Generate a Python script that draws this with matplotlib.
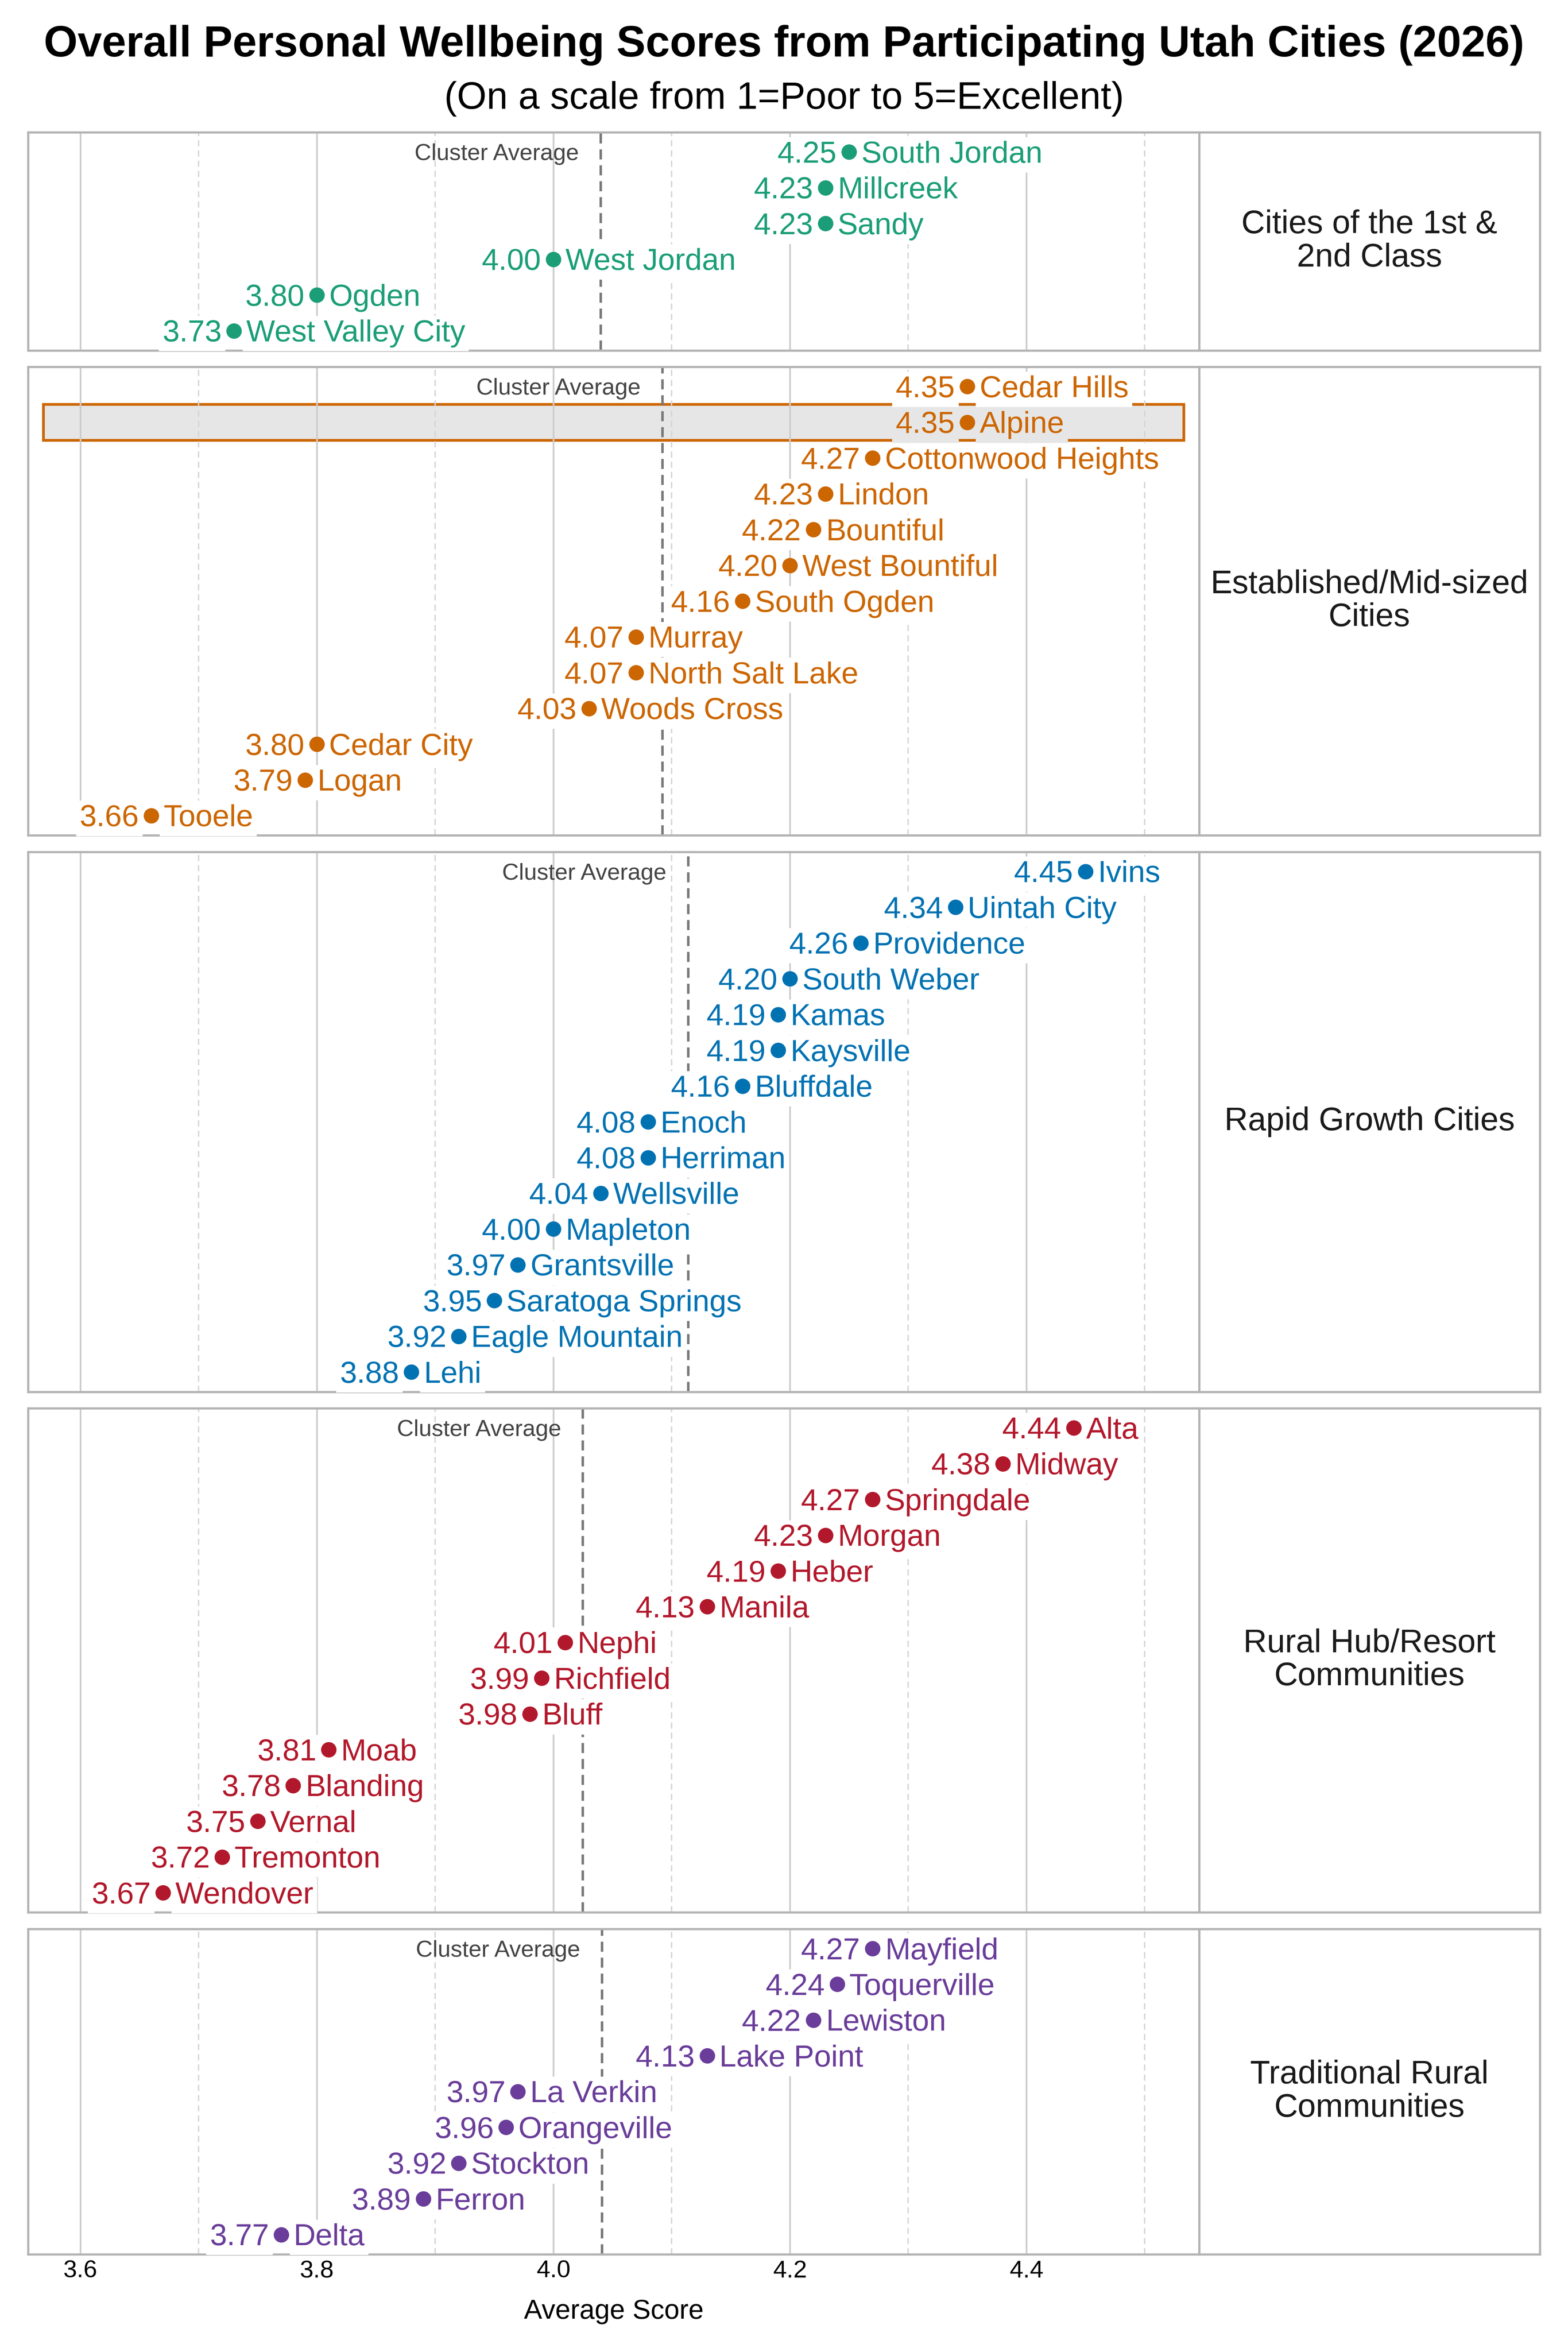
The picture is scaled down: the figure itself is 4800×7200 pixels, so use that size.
import textwrap
import numpy as np
import matplotlib
matplotlib.use("Agg")
import matplotlib.pyplot as plt
from matplotlib.patches import Rectangle

plt.rcParams["font.family"] = ["Liberation Sans", "DejaVu Sans"]

# ---------- data ----------
groups = [
    "Cities of the 1st & 2nd Class",
    "Established/Mid-sized Cities",
    "Rapid Growth Cities",
    "Rural Hub/Resort Communities",
    "Traditional Rural Communities",
]
group_colors = ["#1b9e77", "#cc6600", "#0072b2", "#b2182b", "#6a3d9a"]

cities_1st = ["South Jordan", "Millcreek", "Sandy", "West Jordan", "Ogden", "West Valley City"]
scores_1st = [4.25, 4.23, 4.23, 4.00, 3.80, 3.73]

cities_mid = ["Cedar Hills", "Alpine", "Cottonwood Heights", "Lindon", "Bountiful",
              "West Bountiful", "South Ogden", "Murray", "North Salt Lake", "Woods Cross",
              "Cedar City", "Logan", "Tooele"]
scores_mid = [4.35, 4.35, 4.27, 4.23, 4.22, 4.20, 4.16, 4.07, 4.07, 4.03, 3.80, 3.79, 3.66]

cities_growth = ["Ivins", "Uintah City", "Providence", "South Weber", "Kamas", "Kaysville",
                 "Bluffdale", "Enoch", "Herriman", "Wellsville", "Mapleton", "Grantsville",
                 "Saratoga Springs", "Eagle Mountain", "Lehi"]
scores_growth = [4.45, 4.34, 4.26, 4.20, 4.19, 4.19, 4.16, 4.08, 4.08, 4.04, 4.00, 3.97,
                 3.95, 3.92, 3.88]

cities_hub = ["Alta", "Midway", "Springdale", "Morgan", "Heber", "Manila", "Nephi",
              "Richfield", "Bluff", "Moab", "Blanding", "Vernal", "Tremonton", "Wendover"]
scores_hub = [4.44, 4.38, 4.27, 4.23, 4.19, 4.13, 4.01, 3.99, 3.98, 3.81, 3.78, 3.75,
              3.72, 3.67]

cities_rural = ["Mayfield", "Toquerville", "Lewiston", "Lake Point", "La Verkin",
                "Orangeville", "Stockton", "Ferron", "Delta"]
scores_rural = [4.27, 4.24, 4.22, 4.13, 3.97, 3.96, 3.92, 3.89, 3.77]

highlight_city = "Alpine"

all_cities = [cities_1st, cities_mid, cities_growth, cities_hub, cities_rural]
all_scores = [scores_1st, scores_mid, scores_growth, scores_hub, scores_rural]

major_ticks = [3.6, 3.8, 4.0, 4.2, 4.4]
minor_ticks = [3.7, 3.9, 4.1, 4.3, 4.5]

# ---------- figure ----------
fig = plt.figure(figsize=(8, 12), dpi=600)
counts = [len(c) for c in all_cities]
gs = fig.add_gridspec(
    len(groups), 2,
    height_ratios=[n + 0.1 for n in counts],
    width_ratios=[3.437, 1],
    left=0.018, right=0.982, top=1 - 405 / 7200, bottom=1 - 6901 / 7200,
    hspace=0.04, wspace=0,
)

spine_col = "#b3b3b3"
xmin, xmax = 3.556, 4.546

for i, (grp, cities, scores, col) in enumerate(zip(groups, all_cities, all_scores, group_colors)):
    ax = fig.add_subplot(gs[i, 0])
    lab = fig.add_subplot(gs[i, 1])
    n = len(cities)
    y = np.arange(n)

    ax.set_xlim(xmin, xmax)
    ax.set_ylim(n - 1 + 0.55, -0.55)
    ax.set_xticks(major_ticks)
    ax.set_xticks(minor_ticks, minor=True)
    ax.set_yticks([])
    ax.set_axisbelow(True)
    ax.grid(which="major", axis="x", color="#cccccc", lw=0.6)
    ax.grid(which="minor", axis="x", color="#d5d5d5", lw=0.5, ls=(0, (4.5, 3)))
    ax.tick_params(axis="x", which="both", length=0, labelsize=9, pad=2)
    if i < len(groups) - 1:
        ax.tick_params(axis="x", labelbottom=False)
    for sp in ax.spines.values():
        sp.set_color(spine_col)
        sp.set_linewidth(0.8)

    # dashed line at the group mean
    avg = np.mean(scores)
    ax.axvline(avg, color="#777777", lw=0.9, ls=(0, (4.1, 2.4)), zorder=2)
    ax.annotate("Cluster Average", (avg, 0), xytext=(-8, -3), textcoords="offset points",
                ha="right", va="baseline", fontsize=8.5, color="#444444", zorder=2.5)

    ax.scatter(scores, y, s=32, color=col, zorder=5, linewidths=0)

    for j, (c, v) in enumerate(zip(cities, scores)):
        fc = "white"
        if c == highlight_city:
            fc = "#e6e6e6"
            ax.add_patch(Rectangle((0.013, j - 0.5), 0.974, 1.0,
                                   transform=ax.get_yaxis_transform(),
                                   facecolor="#e6e6e6", edgecolor=col, lw=1.0, zorder=0.2))
        box = dict(boxstyle="square,pad=0.12", fc=fc, ec="none")
        ax.annotate(f"{v:.2f}", (v, j), xytext=(-4.5, -3.9), textcoords="offset points",
                    ha="right", va="baseline", fontsize=11.2, color=col, bbox=box, zorder=3)
        ax.annotate(c, (v, j), xytext=(4.5, -3.9), textcoords="offset points",
                    ha="left", va="baseline", fontsize=11.2, color=col, bbox=box, zorder=3)

    if i == len(groups) - 1:
        ax.set_xlabel("Average Score", fontsize=10, labelpad=6)

    lab.set_xticks([])
    lab.set_yticks([])
    for sp in lab.spines.values():
        sp.set_color(spine_col)
        sp.set_linewidth(0.8)
    lab.text(0.5, 0.5, textwrap.fill(grp, width=22, break_on_hyphens=False),
             ha="center", va="center", fontsize=12, color="#1a1a1a",
             linespacing=1.1, transform=lab.transAxes)

fig.text(0.5, 1 - 173 / 7200,
         "Overall Personal Wellbeing Scores from Participating Utah Cities (2026)",
         ha="center", va="baseline", fontsize=16, weight="bold")
fig.text(0.5, 1 - 333 / 7200, "(On a scale from 1=Poor to 5=Excellent)",
         ha="center", va="baseline", fontsize=14)

fig.savefig("out.png", dpi=600, facecolor="white")
